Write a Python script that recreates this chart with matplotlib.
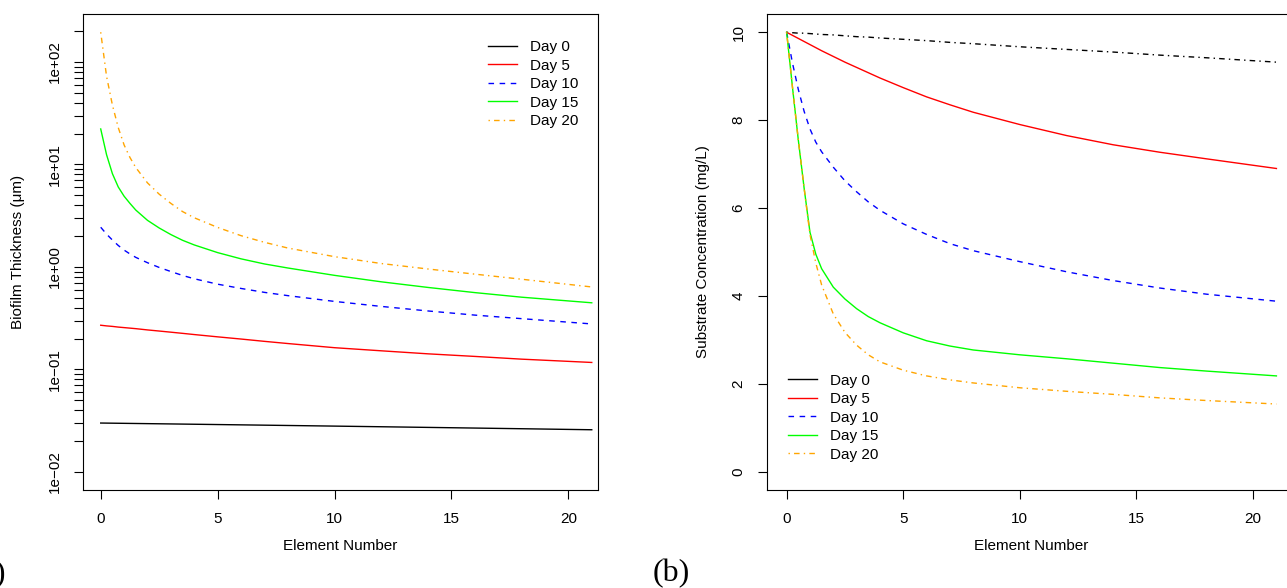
import matplotlib
matplotlib.use('Agg')
import matplotlib.pyplot as plt
from matplotlib.ticker import FixedLocator

plt.rcParams['font.family'] = ['Liberation Sans', 'DejaVu Sans']

# =========================
# DATA
# =========================
days = ["Day 0", "Day 5", "Day 10", "Day 15", "Day 20"]
colors = ["black", "red", "blue", "#00FF00", "orange"]

element = [0, 0.25, 0.5, 0.75, 1, 1.25, 1.5, 2, 2.5, 3, 3.5, 4,
           5, 6, 7, 8, 10, 12, 14, 16, 18, 21]

# (a) biofilm thickness, um
thick_day0 = [0.0300, 0.02995, 0.0299, 0.02985, 0.0298, 0.02975, 0.0297, 0.0296, 0.0295, 0.0294,
              0.0293, 0.0292, 0.0290, 0.0288, 0.0286, 0.0284, 0.0280, 0.0276, 0.0272, 0.0268,
              0.0264, 0.0258]
thick_day5 = [0.270, 0.266, 0.263, 0.259, 0.256, 0.253, 0.250, 0.243, 0.237, 0.231,
              0.225, 0.219, 0.208, 0.198, 0.188, 0.179, 0.163, 0.152, 0.142, 0.134,
              0.126, 0.117]
thick_day10 = [2.44, 2.09, 1.83, 1.62, 1.46, 1.34, 1.24, 1.10, 0.989, 0.902,
               0.826, 0.767, 0.679, 0.617, 0.565, 0.525, 0.461, 0.412, 0.372, 0.339,
               0.313, 0.278]
thick_day15 = [22.2, 12.45, 8.13, 6.03, 4.90, 4.17, 3.59, 2.85, 2.40, 2.07,
               1.82, 1.64, 1.38, 1.20, 1.07, 0.977, 0.828, 0.716, 0.631, 0.562,
               0.507, 0.447]
thick_day20 = [195, 72.4, 38.0, 22.9, 15.5, 11.7, 9.33, 6.61, 5.13, 4.17,
               3.47, 3.02, 2.43, 2.02, 1.74, 1.53, 1.26, 1.08, 0.955, 0.851,
               0.759, 0.638]

# (b) substrate concentration, mg/L
sub_day0 = [10.0, 9.99, 9.98, 9.98, 9.97, 9.96, 9.95, 9.94, 9.92, 9.90,
            9.89, 9.87, 9.84, 9.81, 9.77, 9.74, 9.67, 9.61, 9.55, 9.48,
            9.42, 9.32]
sub_day5 = [10.0, 9.93, 9.86, 9.79, 9.72, 9.65, 9.58, 9.45, 9.32, 9.20,
            9.08, 8.96, 8.74, 8.53, 8.35, 8.18, 7.90, 7.65, 7.44, 7.27,
            7.12, 6.90]
sub_day10 = [10.0, 9.30, 8.70, 8.20, 7.80, 7.50, 7.28, 6.93, 6.62, 6.37,
             6.14, 5.95, 5.64, 5.40, 5.19, 5.03, 4.78, 4.55, 4.35, 4.18,
             4.04, 3.88]
sub_day15 = [10.0, 8.75, 7.55, 6.45, 5.45, 4.95, 4.62, 4.20, 3.93, 3.71,
             3.53, 3.39, 3.16, 2.98, 2.86, 2.77, 2.66, 2.57, 2.47, 2.37,
             2.29, 2.18]
sub_day20 = [10.0, 8.75, 7.55, 6.45, 5.40, 4.75, 4.25, 3.59, 3.17, 2.88,
             2.66, 2.50, 2.31, 2.18, 2.09, 2.02, 1.91, 1.83, 1.76, 1.68,
             1.62, 1.54]

x_ticks = [0, 5, 10, 15, 20]
thick_majors = [1e-2, 1e-1, 1e0, 1e1, 1e2]
thick_labels = ["1e\u221202", "1e\u221201", "1e+00", "1e+01", "1e+02"]
sub_ticks = [0, 2, 4, 6, 8, 10]

# R style line types
styles = ['-', '-', (0, (4, 4)), '-', (0, (1, 3, 4, 3))]
sub_styles = [(0, (1, 3, 4, 3)), '-', (0, (4, 4)), '-', (0, (1, 3, 4, 3))]

FS = 11
LEG = dict(frameon=False, fontsize=FS, borderpad=0, borderaxespad=0,
           handlelength=1.9, handletextpad=0.85, labelspacing=0.29)

fig = plt.figure(figsize=(12.87, 5.88), dpi=100)
ax1 = fig.add_axes([0.0645, 0.1667, 0.4002, 0.8095])
ax2 = fig.add_axes([0.596, 0.1667, 0.411, 0.8095])


def style_axes(ax):
    for s in ax.spines.values():
        s.set_linewidth(0.8)
    ax.tick_params(direction='out', length=6.5, width=0.8, pad=9, labelsize=FS)
    ax.tick_params(which='minor', direction='out', length=6.5, width=0.8)
    ax.set_xticks(x_ticks)
    ax.set_xlabel("Element Number", fontsize=FS)
    ax.xaxis.set_label_coords(0.5, -0.103)


# =========================
# (a) THICKNESS, log axis
# =========================
thick = [thick_day0, thick_day5, thick_day10, thick_day15, thick_day20]
for vals, c, ls, lab in zip(thick, colors, styles, days):
    ax1.plot(element, vals, color=c, linestyle=ls, lw=1.0, label=lab)
ax1.set_yscale('log')
ax1.set_xlim(-0.757, 21.27)
ax1.set_ylim(10 ** -2.176, 10 ** 2.468)
style_axes(ax1)
ax1.yaxis.set_major_locator(FixedLocator(thick_majors))
ax1.yaxis.set_ticklabels(thick_labels)
minors = [m * 10.0 ** k for k in range(-2, 3) for m in range(2, 10)]
ax1.yaxis.set_minor_locator(FixedLocator(minors))
ax1.yaxis.set_minor_formatter(plt.NullFormatter())
for t in ax1.get_yticklabels():
    t.set_rotation(90)
    t.set_va('center')
ax1.set_ylabel("Biofilm Thickness (\u03bcm)", fontsize=FS)
ax1.yaxis.set_label_coords(-0.1126, 0.5)
ax1.legend(loc='upper left', bbox_to_anchor=(0.786, 0.9445), **LEG)

# =========================
# (b) SUBSTRATE
# =========================
sub = [sub_day0, sub_day5, sub_day10, sub_day15, sub_day20]
for vals, c, ls in zip(sub, colors, sub_styles):
    ax2.plot(element, vals, color=c, linestyle=ls, lw=1.0)
ax2.set_xlim(-0.84, 21.84)
ax2.set_ylim(-0.416, 10.416)
style_axes(ax2)
ax2.set_yticks(sub_ticks)
for t in ax2.get_yticklabels():
    t.set_rotation(90)
    t.set_va('center')
ax2.set_ylabel("Substrate Concentration (mg/L)", fontsize=FS)
ax2.yaxis.set_label_coords(-0.1078, 0.5)
# legend shows plain line types, same as the original
handles = [plt.Line2D([], [], color=c, linestyle=ls, lw=1.0) for c, ls in zip(colors, styles)]
ax2.legend(handles, days, loc='lower left', bbox_to_anchor=(0.0397, 0.0597), **LEG)

# panel letters ("(a)" is cut by the left edge in the original too)
fig.text(6 / 1287, 1 - 574 / 588, "(a)", family='Liberation Serif', fontsize=23,
         ha='right', va='center')
fig.text(671.7 / 1287, 1 - 574 / 588, "(b)", family='Liberation Serif', fontsize=23,
         ha='center', va='center')

fig.savefig("out.png", dpi=100)
